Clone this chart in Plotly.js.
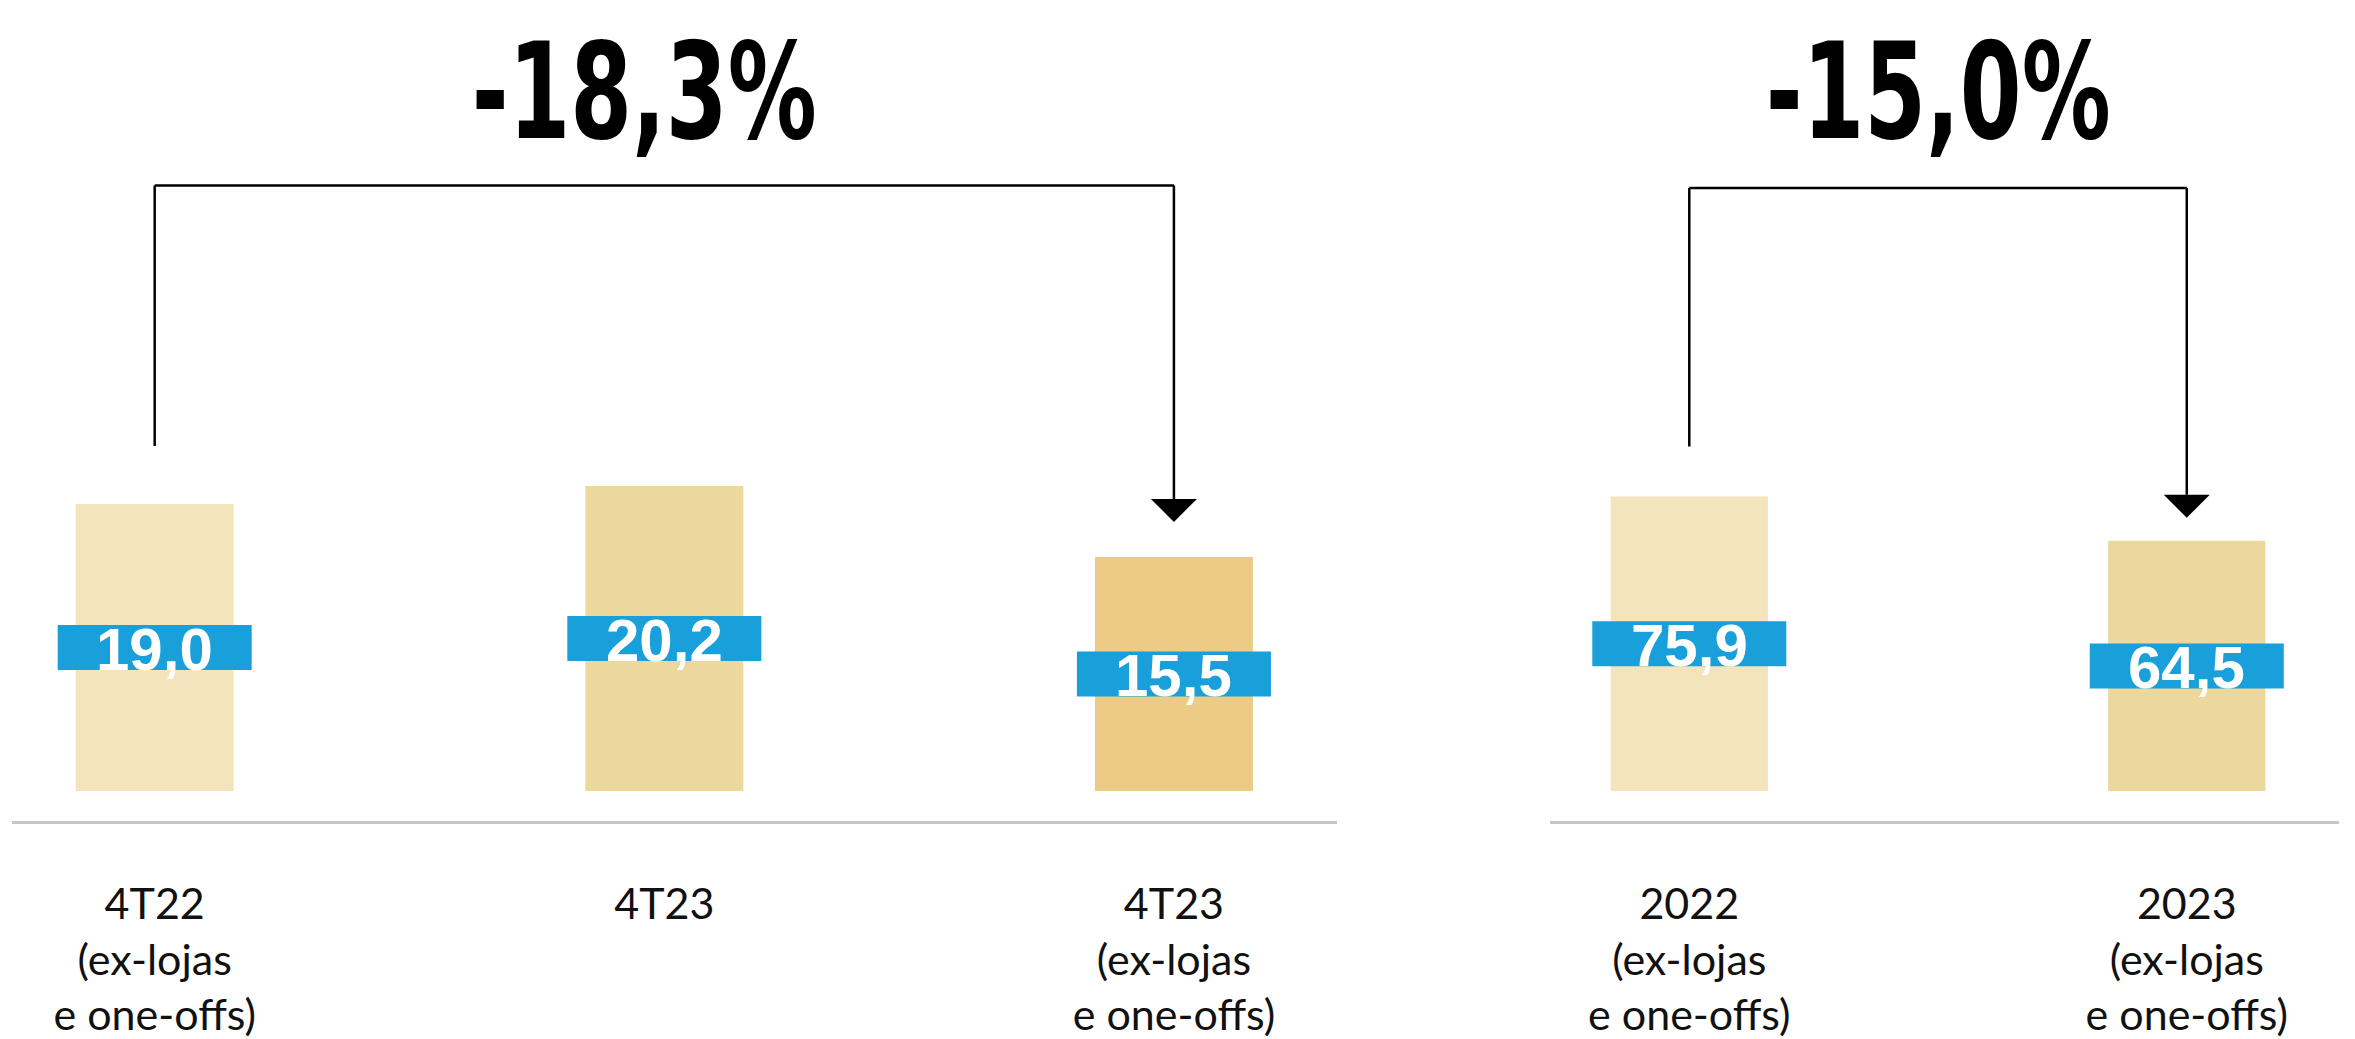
<!DOCTYPE html>
<html>
<head>
<meta charset="utf-8">
<script src="https://cdn.plot.ly/plotly-3.0.1.min.js"></script>
<style>html,body{margin:0;padding:0;background:#fff;}#chart{width:2355px;height:1039px;}</style>
</head>
<body>
<div id="chart"></div>
<script>
// ---- data ----
const quarterCategories = ['4T22<br>(ex-lojas<br>e one-offs)', '4T23', '4T23<br>(ex-lojas<br>e one-offs)'];
const quarterValues = [19.0, 20.2, 15.5];
const yearCategories = ['2022<br>(ex-lojas<br>e one-offs)', '2023<br>(ex-lojas<br>e one-offs)'];
const yearValues = [75.9, 64.5];
const quarterChange = '-18,3%';
const yearChange = '-15,0%';

// ---- styles ----
const quarterColors = ['#F3E4BB', '#ECD79D', '#EBCB85'];
const yearColors = ['#F3E4BB', '#ECD79D'];
const labelBlue = '#199FD9';
const W = 2355, H = 1039;
const M = {l: 0, r: 0, t: 100, b: 218};
const plotH = H - M.t - M.b;
const y1Range = [-1.99, 45.76];
const y2Range = [-7.73, 178.1];
const px1 = plotH / (y1Range[1] - y1Range[0]);
const px2 = plotH / (y2Range[1] - y2Range[0]);

const fmt = v => v.toFixed(1).replace('.', ',');
const tickFont = {family: 'Lato, "Liberation Sans", sans-serif', size: 43, color: '#111'};

const traces = [
  {type: 'bar', x: quarterCategories, y: quarterValues, width: 0.31,
   marker: {color: quarterColors}, xaxis: 'x', yaxis: 'y', hoverinfo: 'skip'},
  {type: 'bar', x: yearCategories, y: yearValues, width: 0.316,
   marker: {color: yearColors}, xaxis: 'x2', yaxis: 'y2', hoverinfo: 'skip'}
];

const shapes = [];
const annotations = [];

function addLabels(values, xr, yr) {
  values.forEach((v, i) => {
    shapes.push({type: 'rect', xref: xr, yref: yr, xsizemode: 'pixel', ysizemode: 'pixel',
      xanchor: i, yanchor: v / 2, x0: -97, x1: 97, y0: -22.5, y1: 22.5,
      fillcolor: labelBlue, line: {width: 0}, layer: 'above'});
    annotations.push({xref: xr, yref: yr, x: i, y: v / 2, text: fmt(v), showarrow: false,
      yshift: -2, font: {family: '"Liberation Sans", Arial, sans-serif', size: 60, color: '#fff', weight: 700}});
  });
}
addLabels(quarterValues, 'x', 'y');
addLabels(yearValues, 'x2', 'y2');

function addBracket(values, i0, i1, xr, yr, level, startGapPx, tipGapPx, px) {
  const lineStyle = {color: '#000', width: 2.5};
  const yStart = values[i0] + startGapPx / px;
  const yTip = values[i1] + tipGapPx / px;
  const triH = 23;
  shapes.push({type: 'line', xref: xr, yref: yr, x0: i0, x1: i0, y0: yStart, y1: level, line: lineStyle});
  shapes.push({type: 'line', xref: xr, yref: yr, x0: i0, x1: i1, y0: level, y1: level, line: lineStyle});
  shapes.push({type: 'line', xref: xr, yref: yr, x0: i1, x1: i1, y0: level, y1: yTip + triH / px, line: lineStyle});
  shapes.push({type: 'path', xref: xr, yref: yr, xsizemode: 'pixel', ysizemode: 'pixel',
    xanchor: i1, yanchor: yTip, path: 'M-23,23 L23,23 L0,0 Z', fillcolor: '#000', line: {width: 0}});
}
addBracket(quarterValues, 0, 2, 'x', 'y', 40.1, 58, 35, px1);
addBracket(yearValues, 0, 1, 'x2', 'y2', 155.4, 50, 23, px2);

const titleFont = {family: '"Liberation Sans Narrow", "Arial Narrow", "DejaVu Sans Condensed", sans-serif', size: 134, color: '#000', weight: 700};
annotations.push({xref: 'x', yref: 'paper', x: 0.96, y: (H - M.b - 92) / plotH, text: quarterChange,
  showarrow: false, font: titleFont, yanchor: 'middle', name: 'change-title'});
annotations.push({xref: 'x2', yref: 'paper', x: 0.5, y: (H - M.b - 92) / plotH, text: yearChange,
  showarrow: false, font: titleFont, yanchor: 'middle', name: 'change-title'});

const xCommon = {type: 'category', showgrid: false, zeroline: false, showline: true,
  linecolor: '#C6C6C6', linewidth: 3, ticks: 'outside', ticklen: 43, tickcolor: 'rgba(0,0,0,0)',
  tickfont: tickFont, fixedrange: true};

const layout = {
  width: W, height: H, margin: M, paper_bgcolor: '#fff', plot_bgcolor: '#fff',
  showlegend: false,
  xaxis: Object.assign({}, xCommon, {domain: [12 / W, 1337 / W], range: [-0.28, 2.32], anchor: 'y'}),
  yaxis: {domain: [0, 1], range: y1Range, visible: false, fixedrange: true, anchor: 'x'},
  xaxis2: Object.assign({}, xCommon, {domain: [1550 / W, 2339 / W], range: [-0.28, 1.306], anchor: 'y2'}),
  yaxis2: {domain: [0, 1], range: y2Range, visible: false, fixedrange: true, anchor: 'x2'},
  shapes: shapes,
  annotations: annotations
};

Plotly.newPlot('chart', traces, layout, {staticPlot: true, displayModeBar: false}).then(gd => {
  // condense the large change titles horizontally (no narrow bold face is installed)
  const targetWidth = 345;
  gd.querySelectorAll('.annotation-text').forEach(t => {
    const txt = t.textContent;
    if (txt !== quarterChange && txt !== yearChange) return;
    const bb = t.getBBox();
    const cx = bb.x + bb.width / 2;
    const s = Math.min(1, targetWidth / bb.width);
    t.setAttribute('transform', `translate(${cx},0) scale(${s},1) translate(${-cx},0)`);
  });
});
</script>
</body>
</html>
